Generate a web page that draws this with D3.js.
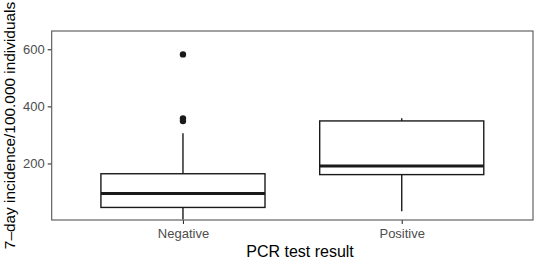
<!DOCTYPE html>
<html>
<head>
<meta charset="utf-8">
<script src="https://cdn.jsdelivr.net/npm/d3@7"></script>
<style>
	body { margin: 0; background: #fff; }
	text { font-family: "Liberation Sans", Arial, sans-serif; }
</style>
</head>
<body>
<svg id="chart" width="536" height="260"></svg>
<script>
// Box statistics
const groups = ["Negative", "Positive"]
const lowerWhisker = [4, 33]
const q1 = [46, 161]
const median = [95, 191]
const q3 = [164, 349]
const upperWhisker = [306, 358]
const outliers = [
	{ group: "Negative", value: 582 },
	{ group: "Negative", value: 358 },
	{ group: "Negative", value: 349 },
]
const yTicks = [200, 400, 600]

const boxes = groups.map((g, i) => ({
	group: g,
	lo: lowerWhisker[i],
	q1: q1[i],
	med: median[i],
	q3: q3[i],
	hi: upperWhisker[i],
}))

const panel = { left: 51.7, top: 31, right: 533, bottom: 220 }

const svg = d3.select("#chart")

// ggplot discrete expansion: 0.6 units on each side of two categories
const unit = (panel.right - panel.left) / 2.2
const x = d3.scalePoint()
	.domain(groups)
	.range([panel.left + 0.6 * unit, panel.right - 0.6 * unit])
	.padding(0)

const y = d3.scaleLinear()
	.domain([2, 664])
	.range([panel.bottom, panel.top])

const boxWidth = 0.75 * unit
const ink = "#1a1a1a"
const font = "'Liberation Sans', Arial, sans-serif"

// Axes
const yAxis = svg.append("g")
	.attr("transform", `translate(${panel.left}, 0)`)
	.call(d3.axisLeft(y).tickValues(yTicks).tickSize(4).tickPadding(3))
yAxis.select(".domain").remove()
yAxis.selectAll(".tick line").attr("stroke", "#333").attr("stroke-width", 1.1)
yAxis.selectAll(".tick text")
	.attr("fill", "#4d4d4d")
	.style("font-size", "13px")
	.style("font-family", font)

const xAxis = svg.append("g")
	.attr("transform", `translate(0, ${panel.bottom})`)
	.call(d3.axisBottom(x).tickSize(4).tickPadding(3))
xAxis.select(".domain").remove()
xAxis.selectAll(".tick line").attr("stroke", "#333").attr("stroke-width", 1.1)
xAxis.selectAll(".tick text")
	.attr("fill", "#4d4d4d")
	.attr("dy", "0.75em")
	.attr("y", 8)
	.style("font-size", "13px")
	.style("font-family", font)

// Boxes
const box = svg.append("g")
	.selectAll("g.box")
	.data(boxes)
	.join("g")
	.attr("class", "box")

box.append("line")
	.attr("x1", d => x(d.group))
	.attr("x2", d => x(d.group))
	.attr("y1", d => y(d.hi))
	.attr("y2", d => y(d.q3))
	.attr("stroke", ink)
	.attr("stroke-width", 1.4)
box.append("line")
	.attr("x1", d => x(d.group))
	.attr("x2", d => x(d.group))
	.attr("y1", d => y(d.q1))
	.attr("y2", d => y(d.lo))
	.attr("stroke", ink)
	.attr("stroke-width", 1.4)
box.append("rect")
	.attr("x", d => x(d.group) - boxWidth / 2)
	.attr("width", boxWidth)
	.attr("y", d => y(d.q3))
	.attr("height", d => y(d.q1) - y(d.q3))
	.attr("fill", "#fff")
	.attr("stroke", ink)
	.attr("stroke-width", 1.4)
box.append("line")
	.attr("x1", d => x(d.group) - boxWidth / 2)
	.attr("x2", d => x(d.group) + boxWidth / 2)
	.attr("y1", d => y(d.med))
	.attr("y2", d => y(d.med))
	.attr("stroke", ink)
	.attr("stroke-width", 3)

svg.append("g")
	.selectAll("circle")
	.data(outliers)
	.join("circle")
	.attr("cx", d => x(d.group))
	.attr("cy", d => y(d.value))
	.attr("r", 3.2)
	.attr("fill", ink)

// Panel border
svg.append("rect")
	.attr("x", panel.left)
	.attr("y", panel.top)
	.attr("width", panel.right - panel.left)
	.attr("height", panel.bottom - panel.top)
	.attr("fill", "none")
	.attr("stroke", "#555")
	.attr("stroke-width", 1.1)

// Axis titles
svg.append("text")
	.attr("x", 300)
	.attr("y", 256.5)
	.attr("text-anchor", "middle")
	.style("font-size", "16px")
	.text("PCR test result")

svg.append("text")
	.attr("transform", `translate(14.5, ${(panel.top + panel.bottom) / 2}) rotate(-90)`)
	.attr("text-anchor", "middle")
	.style("font-size", "15.4px")
	.text("7–day incidence/100.000 individuals")
</script>
</body>
</html>
